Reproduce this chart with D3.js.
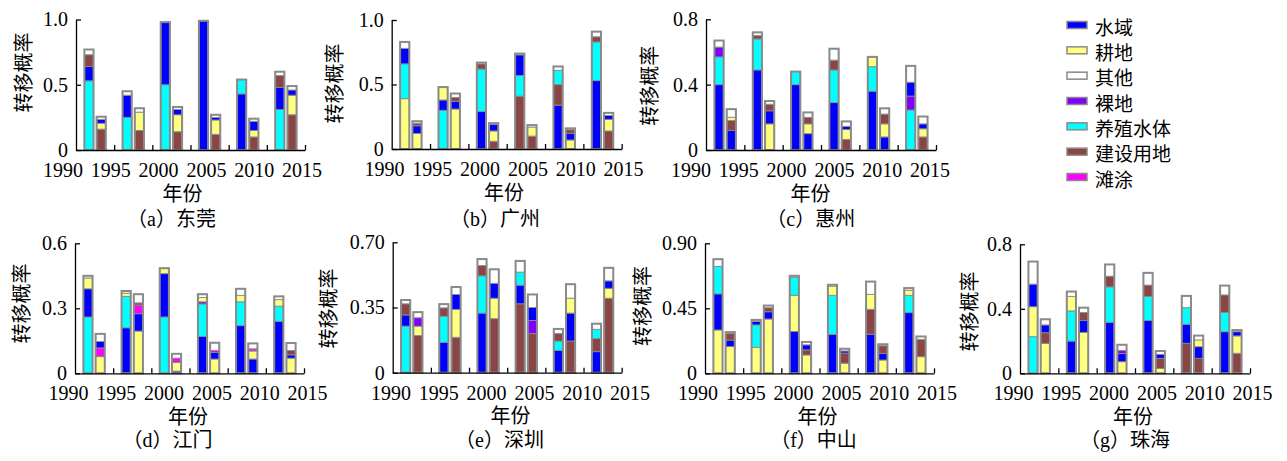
<!DOCTYPE html>
<html>
<head>
<meta charset="utf-8">
<script src="https://cdn.jsdelivr.net/npm/d3@7"></script>
<style>
  body { margin: 0; background: #fff; }
  svg { display: block; }
</style>
</head>
<body>
<div id="chart"></div>
<script>
// land-use categories (legend order) and the short codes used in the stacks
const categories = ["水域", "耕地", "其他", "裸地", "养殖水体", "建设用地", "滩涂"];
const codes = ["W", "F", "O", "B", "A", "C", "T"];
const groupYears = [1990, 1995, 2000, 2005, 2010, 2015];
const xTickLabels = ["1990", "1995", "2000", "2005", "2010", "2015"];
const cities = ["东莞", "广州", "惠州", "江门", "深圳", "中山", "珠海"];
const panelLetters = ["a", "b", "c", "d", "e", "f", "g"];
const yMaxes = [1, 1, 0.8, 0.6, 0.7, 0.9, 0.8];
const yTickLabels = [
    ["0", "0.5", "1.0"], ["0", "0.5", "1.0"], ["0", "0.4", "0.8"],
    ["0", "0.3", "0.6"], ["0", "0.35", "0.70"], ["0", "0.45", "0.90"], ["0", "0.4", "0.8"]
];

// each group = two bars, each bar = stack from bottom to top as [code, value]
const dongguan = [
    [[["A", .53], ["W", .11], ["C", .09], ["O", .04]], [["C", .16], ["F", .045], ["W", .03], ["O", .02]]],
    [[["A", .25], ["W", .17], ["O", .03]], [["C", .15], ["F", .14], ["O", .03]]],
    [[["A", .50], ["W", .48]], [["C", .14], ["F", .13], ["W", .04], ["O", .02]]],
    [[["W", .99]], [["C", .12], ["F", .11], ["W", .02], ["O", .02]]],
    [[["W", .43], ["A", .11]], [["C", .10], ["F", .05], ["W", .07], ["O", .02]]],
    [[["A", .31], ["W", .17], ["C", .09], ["O", .03]], [["C", .27], ["F", .15], ["W", .04], ["O", .03]]]
];
const guangzhou = [
    [[["F", .39], ["A", .27], ["W", .12], ["O", .05]], [["F", .12], ["W", .06], ["C", .02], ["O", .015]]],
    [[["A", .30], ["W", .08], ["F", .10]], [["F", .31], ["W", .06], ["C", .03], ["O", .03]]],
    [[["W", .29], ["A", .33], ["C", .04], ["O", .01]], [["C", .06], ["F", .08], ["W", .05], ["O", .01]]],
    [[["C", .41], ["A", .16], ["W", .16], ["O", .01]], [["C", .10], ["F", .07], ["O", .015]]],
    [[["W", .34], ["C", .16], ["A", .11], ["O", .03]], [["F", .07], ["W", .05], ["C", .03], ["O", .01]]],
    [[["W", .53], ["A", .30], ["C", .04], ["O", .04]], [["C", .14], ["F", .09], ["W", .03], ["O", .02]]]
];
const huizhou = [
    [[["W", .40], ["A", .17], ["B", .06], ["O", .04]], [["W", .12], ["C", .06], ["F", .02], ["O", .05]]],
    [[["W", .49], ["A", .19], ["C", .02], ["O", .02]], [["F", .16], ["W", .08], ["C", .04], ["O", .02]]],
    [[["W", .40], ["A", .08]], [["W", .10], ["F", .06], ["C", .04], ["O", .03]]],
    [[["W", .29], ["A", .20], ["C", .06], ["O", .07]], [["C", .065], ["F", .06], ["W", .02], ["O", .03]]],
    [[["W", .36], ["A", .15], ["F", .06]], [["W", .08], ["F", .08], ["C", .06], ["O", .035]]],
    [[["A", .245], ["B", .085], ["W", .085], ["O", .10]], [["C", .08], ["F", .05], ["W", .03], ["O", .045]]]
];
const jiangmen = [
    [[["A", .26], ["W", .13], ["F", .05], ["O", .01]], [["F", .077], ["T", .04], ["W", .03], ["O", .035]]],
    [[["W", .21], ["A", .145], ["F", .015], ["O", .01]], [["F", .195], ["W", .08], ["T", .04], ["C", .01], ["O", .04]]],
    [[["A", .26], ["W", .20], ["F", .025]], [["W", .01], ["F", .04], ["T", .02], ["O", .02]]],
    [[["W", .17], ["A", .15], ["B", .01], ["F", .02], ["O", .015]], [["F", .066], ["W", .03], ["T", .01], ["O", .035]]],
    [[["W", .22], ["A", .11], ["F", .03], ["O", .03]], [["W", .066], ["F", .037], ["T", .01], ["O", .025]]],
    [[["W", .24], ["A", .07], ["F", .03], ["O", .015]], [["F", .07], ["W", .015], ["C", .02], ["O", .035]]]
];
const shenzhen = [
    [[["A", .25], ["W", .06], ["C", .06], ["O", .02]], [["C", .20], ["F", .05], ["B", .045], ["O", .03]]],
    [[["W", .163], ["A", .14], ["C", .045], ["O", .02]], [["C", .19], ["F", .15], ["W", .08], ["O", .04]]],
    [[["W", .32], ["A", .20], ["C", .055], ["O", .035]], [["C", .29], ["F", .11], ["W", .08], ["O", .075]]],
    [[["C", .37], ["W", .10], ["A", .07], ["O", .06]], [["C", .21], ["B", .07], ["W", .07], ["O", .07]]],
    [[["W", .12], ["A", .05], ["C", .04], ["O", .025]], [["C", .17], ["W", .15], ["F", .08], ["O", .075]]],
    [[["W", .113], ["C", .07], ["A", .05], ["O", .03]], [["C", .40], ["F", .053], ["W", .04], ["O", .07]]]
];
const zhongshan = [
    [[["F", .30], ["W", .25], ["A", .19], ["O", .05]], [["F", .185], ["W", .045], ["C", .045], ["O", .01]]],
    [[["F", .18], ["A", .155], ["W", .025], ["O", .01]], [["F", .376], ["W", .05], ["C", .028], ["O", .015]]],
    [[["W", .29], ["F", .25], ["A", .125], ["O", .01]], [["F", .127], ["C", .035], ["W", .035], ["O", .02]]],
    [[["W", .27], ["A", .27], ["F", .063], ["O", .01]], [["F", .07], ["C", .07], ["W", .015], ["O", .015]]],
    [[["W", .27], ["C", .173], ["F", .104], ["O", .088]], [["F", .092], ["W", .046], ["C", .053], ["O", .01]]],
    [[["W", .42], ["A", .12], ["F", .035], ["O", .015]], [["F", .115], ["C", .12], ["O", .02]]]
];
const zhuhai = [
    [[["A", .227], ["F", .186], ["W", .14], ["O", .14]], [["F", .186], ["C", .066], ["W", .048], ["O", .035]]],
    [[["W", .20], ["A", .187], ["F", .09], ["O", .03]], [["F", .254], ["W", .073], ["C", .05], ["O", .03]]],
    [[["W", .316], ["A", .22], ["C", .066], ["O", .073]], [["F", .072], ["W", .05], ["B", .02], ["O", .035]]],
    [[["W", .327], ["A", .15], ["C", .07], ["O", .076]], [["F", .03], ["C", .063], ["W", .025], ["O", .02]]],
    [[["C", .186], ["W", .118], ["A", .103], ["O", .073]], [["C", .093], ["W", .072], ["F", .042], ["O", .027]]],
    [[["W", .258], ["A", .12], ["C", .108], ["O", .058]], [["C", .124], ["F", .108], ["W", .026], ["O", .01]]]
];
const cityData = [dongguan, guangzhou, huizhou, jiangmen, shenzhen, zhongshan, zhuhai];

const COLORS = { W: "#0000ff", F: "#ffff80", O: "#ffffff", B: "#8000ff", A: "#00ffff", C: "#8b4545", T: "#ff00ff" };
const OUTLINE = "#8a8a8a";
const NUM_FONT = "'Liberation Serif', 'Noto Sans CJK SC', serif";
const CJK_FONT = "'Noto Sans CJK SC', sans-serif";

// panel placement on the 1287x461 page
const layout = [
    { x0: 76, x1: 305, yTop: 19.5, y0: 150, labelCx: 182.5, titleCx: 171.5, titleY: 219, yTitle: [22.5, 72.5] },
    { x0: 391.7, x1: 621.7, yTop: 20, y0: 149, labelCx: 504, titleCx: 495, titleY: 219, yTitle: [333, 83.5] },
    { x0: 706, x1: 936, yTop: 19.3, y0: 150, labelCx: 810.5, titleCx: 810.8, titleY: 219, yTitle: [649, 85.7] },
    { x0: 75, x1: 304, yTop: 243.3, y0: 373.3, labelCx: 188, titleCx: 167.5, titleY: 440, yTitle: [20, 303.5] },
    { x0: 392.7, x1: 621.7, yTop: 242.3, y0: 372.7, labelCx: 510.5, titleCx: 499.5, titleY: 440, yTitle: [327, 308.5] },
    { x0: 705, x1: 934, yTop: 243.3, y0: 373.3, labelCx: 817.5, titleCx: 813.5, titleY: 440, yTitle: [641.7, 306] },
    { x0: 1020, x1: 1250, yTop: 244.3, y0: 373.3, labelCx: 1133, titleCx: 1125, titleY: 440, yTitle: [968, 311.5] }
];
const BAR_OFFSETS = [1.1, 2.7];   // years after the group start
const BAR_SPAN = 1.2;             // bar width in years
const LABEL_STEP = 47.8;

const svg = d3.select("#chart").append("svg")
    .attr("width", 1287)
    .attr("height", 461)
    .style("background", "#fff");

const drawPanel = (p, bars, yMax, yLabels, city, letter) => {
    const x = d3.scaleLinear().domain([1990, 2020]).range([p.x0, p.x1]);
    const y = d3.scaleLinear().domain([0, yMax]).range([p.y0, p.yTop]);
    const g = svg.append("g");

    bars.forEach((pair, i) => {
        pair.forEach((stack, j) => {
            const left = groupYears[i] + BAR_OFFSETS[j];
            const bx = x(left);
            const bw = x(left + BAR_SPAN) - x(left);
            let base = 0;
            stack.forEach(([code, v]) => {
                g.append("rect")
                    .attr("x", bx)
                    .attr("width", bw)
                    .attr("y", y(base + v))
                    .attr("height", y(base) - y(base + v))
                    .attr("fill", COLORS[code])
                    .attr("stroke", OUTLINE)
                    .attr("stroke-width", 0.9);
                base += v;
            });
            g.append("rect")
                .attr("x", bx)
                .attr("width", bw)
                .attr("y", y(base))
                .attr("height", y(0) - y(base))
                .attr("fill", "none")
                .attr("stroke", OUTLINE)
                .attr("stroke-width", 2);
        });
    });

    // axes with inward ticks
    const xAxis = d3.axisBottom(x)
        .tickValues([1995, 2000, 2005, 2010, 2015, 2020])
        .tickSize(-5).tickSizeOuter(0).tickFormat("");
    g.append("g").attr("transform", `translate(0,${p.y0})`).call(xAxis)
        .call(a => a.selectAll("path, line").attr("stroke", "#000").attr("stroke-width", 1.3));

    const yAxis = d3.axisLeft(y)
        .tickValues([0, yMax / 2, yMax])
        .tickSize(-5).tickSizeOuter(0).tickPadding(8)
        .tickFormat((d, i) => yLabels[i]);
    g.append("g").attr("transform", `translate(${p.x0},0)`).call(yAxis)
        .attr("font-family", NUM_FONT)
        .attr("font-size", 20)
        .call(a => a.selectAll("path, line").attr("stroke", "#000").attr("stroke-width", 1.3))
        .call(a => a.selectAll("text").attr("fill", "#000"));

    // year labels sit on their own even spacing, as in the source figure
    xTickLabels.forEach((t, i) => {
        g.append("text")
            .attr("x", p.labelCx + (i - 2.5) * LABEL_STEP)
            .attr("y", p.y0 + 20)
            .attr("text-anchor", "middle")
            .attr("dominant-baseline", "central")
            .attr("font-family", NUM_FONT)
            .attr("font-size", 20)
            .text(t);
    });

    g.append("text")
        .attr("x", p.labelCx)
        .attr("y", p.y0 + 42)
        .attr("text-anchor", "middle")
        .attr("dominant-baseline", "central")
        .attr("font-family", CJK_FONT)
        .attr("font-size", 20)
        .text("年份");

    g.append("text")
        .attr("x", p.yTitle[0])
        .attr("y", p.yTitle[1])
        .attr("text-anchor", "middle")
        .attr("dominant-baseline", "central")
        .attr("transform", `rotate(-90,${p.yTitle[0]},${p.yTitle[1]})`)
        .attr("font-family", CJK_FONT)
        .attr("font-size", 20)
        .text("转移概率");

    g.append("text")
        .attr("x", p.titleCx)
        .attr("y", p.titleY)
        .attr("text-anchor", "middle")
        .attr("dominant-baseline", "central")
        .attr("font-family", NUM_FONT)
        .attr("font-size", 20)
        .text(`（${letter}）${city}`);
};

cityData.forEach((bars, k) => {
    drawPanel(layout[k], bars, yMaxes[k], yTickLabels[k], cities[k], panelLetters[k]);
});

// legend
const legend = svg.append("g");
const legendY = d3.scalePoint().domain(categories).range([25, 177]);
categories.forEach((c, i) => {
    legend.append("rect")
        .attr("x", 1067)
        .attr("y", legendY(c) - 3.5)
        .attr("width", 20)
        .attr("height", 7)
        .attr("fill", COLORS[codes[i]])
        .attr("stroke", OUTLINE)
        .attr("stroke-width", 1.5);
    legend.append("text")
        .attr("x", 1095)
        .attr("y", legendY(c) + 1)
        .attr("dominant-baseline", "central")
        .attr("font-family", CJK_FONT)
        .attr("font-size", 19)
        .text(c);
});
</script>
</body>
</html>
